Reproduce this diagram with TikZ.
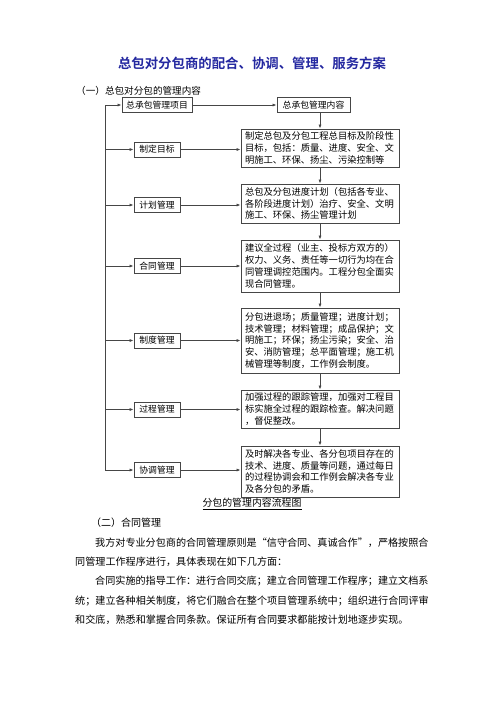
\documentclass[tikz,border=0pt]{standalone}
\usepackage{fontspec}
\setmainfont{Noto Sans CJK SC}[BoldFont={Noto Sans CJK SC Bold}]
\usetikzlibrary{arrows.meta}
\definecolor{titleblue}{RGB}{36,40,160}
\definecolor{linegray}{RGB}{70,70,70}
\begin{document}
\begin{tikzpicture}[x=1pt,y=-1pt,
  item/.style={draw=linegray,line width=0.8pt,inner xsep=4pt,inner ysep=0pt,minimum height=15pt,font=\fontsize{8.8}{10}\selectfont},
  detail/.style={draw=linegray,line width=0.8pt,inner xsep=4pt,inner ysep=0pt,text width=150pt,align=left,font=\fontsize{9.3}{11.8}\selectfont},
  arr/.style={draw=linegray,line width=0.7pt,-{Latex[length=4pt,width=3pt]}},
  textline/.style={anchor=west,inner sep=0pt,font=\fontsize{10.1}{12}\selectfont}]
  \useasboundingbox (0,0) rectangle (500,707);

  % title and heading
  \node[font=\fontsize{13.4}{15}\selectfont\bfseries,text=titleblue] (title) at (252,63) {总包对分包商的配合、协调、管理、服务方案};
  \node[textline,font=\fontsize{9.6}{11}\selectfont] (head1) at (76,91) {（一）总包对分包的管理内容};

  % draw top boxes
  \node[item,minimum width=70pt] (proj) at (157,105) {总承包管理项目};
  \node[item,minimum width=73pt] (cont) at (313.5,105) {总承包管理内容};

  % draw left boxes
  \node[item,minimum width=46pt] (l1) at (157,149.5) {制定目标};
  \node[item,minimum width=46pt] (l2) at (157,205) {计划管理};
  \node[item,minimum width=46pt] (l3) at (157,266) {合同管理};
  \node[item,minimum width=46pt] (l4) at (157,340.5) {制度管理};
  \node[item,minimum width=46pt] (l5) at (157,409.5) {过程管理};
  \node[item,minimum width=46pt] (l6) at (157,470) {协调管理};

  % draw right boxes
  \node[detail,minimum height=38pt] (d1) at (320,148) {制定总包及分包工程总目标及阶段性\\目标，包括：质量、进度、安全、文\\明施工、环保、扬尘、污染控制等};
  \node[detail,minimum height=39pt] (d2) at (320,203.5) {总包及分包进度计划（包括各专业、\\各阶段进度计划）治疗、安全、文明\\施工、环保、扬尘管理计划};
  \node[detail,minimum height=52pt] (d3) at (320,266) {建议全过程（业主、投标方双方的）\\权力、义务、责任等一切行为均在合\\同管理调控范围内。工程分包全面实\\现合同管理。};
  \node[detail,minimum height=65pt] (d4) at (320,340.5) {分包进退场；质量管理；进度计划；\\技术管理；材料管理；成品保护；文\\明施工；环保；扬尘污染；安全、治\\安、消防管理；总平面管理；施工机\\械管理等制度，工作例会制度。};
  \node[detail,minimum height=38pt] (d5) at (320,409) {加强过程的跟踪管理，加强对工程目\\标实施全过程的跟踪检查。解决问题\\，督促整改。};
  \node[detail,minimum height=51pt] (d6) at (320,471.5) {及时解决各专业、各分包项目存在的\\技术、进度、质量等问题，通过每日\\的过程协调会和工作例会解决各专业\\及各分包的矛盾。};

  % draw connectors
  \coordinate (top) at (105,105);
  \draw[linegray,line width=0.7pt] (top) -- (top |- l6.west);
  \draw[arr] (top) -- (proj.west);
  \draw[arr] (proj.east) -- (cont.west);
  \draw[arr] (cont.south -| d1.north) -- (d1.north);
  \foreach \i in {1,...,6} {
    \draw[arr] (top |- l\i.west) -- (l\i.west);
    \draw[arr] (l\i.east) -- (l\i.east -| d\i.west);
  }
  \foreach \i/\j in {1/2,2/3,3/4,4/5,5/6}
    \draw[arr] (d\i.south) -- (d\j.north);

  % caption
  \node[font=\fontsize{9.9}{11}\selectfont] (cap) at (252,504) {\underline{分包的管理内容流程图}};

  % section two
  \node[textline,font=\fontsize{10}{12}\selectfont] (head2) at (91,523) {（二）合同管理};
  \node[textline] (p1) at (95,543) {我方对专业分包商的合同管理原则是“信守合同、真诚合作”，严格按照合};
  \node[textline] (p2) at (75,562) {同管理工作程序进行，具体表现在如下几方面：};
  \node[textline] (p3) at (95,581) {合同实施的指导工作：进行合同交底；建立合同管理工作程序；建立文档系};
  \node[textline] (p4) at (75,601) {统；建立各种相关制度，将它们融合在整个项目管理系统中；组织进行合同评审};
  \node[textline] (p5) at (75,620) {和交底，熟悉和掌握合同条款。保证所有合同要求都能按计划地逐步实现。};
\end{tikzpicture}
\end{document}
